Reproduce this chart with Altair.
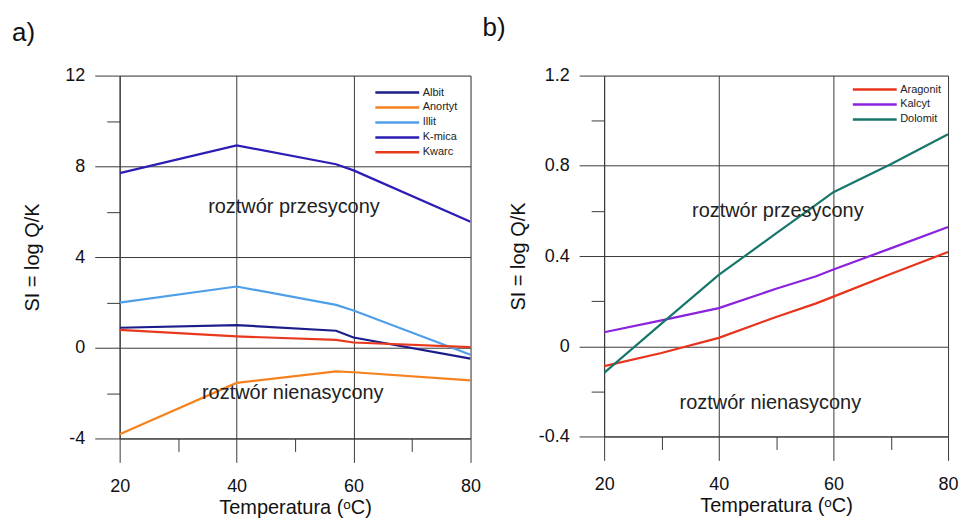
import altair as alt
import pandas as pd

# ---------------- data ----------------
temps_a = [20, 40, 57, 60, 80]
series_a = ["Albit", "Anortyt", "Illit", "K-mica", "Kwarc"]
albit = [0.88, 1.0, 0.75, 0.45, -0.48]
anortyt = [-3.82, -1.55, -1.04, -1.08, -1.44]
illit = [1.99, 2.7, 1.89, 1.64, -0.31]
kmica = [7.7, 8.92, 8.09, 7.82, 5.55]
kwarc = [0.79, 0.5, 0.35, 0.23, 0.03]
colors_a = ["#1c1c8a", "#f5821f", "#4f9fe8", "#2b1db5", "#e8381e"]

temps_b = [20, 30, 40, 50, 57, 60, 70, 80]
series_b = ["Aragonit", "Kalcyt", "Dolomit"]
aragonit = [-0.088, -0.03, 0.037, 0.13, 0.19, 0.22, 0.32, 0.418]
kalcyt = [0.062, 0.115, 0.169, 0.255, 0.31, 0.34, 0.434, 0.529]
dolomit = [-0.118, 0.10, 0.316, 0.50, 0.628, 0.683, 0.807, 0.94]
colors_b = ["#e8341c", "#8b22dd", "#17776b"]

x_ticks = [20, 30, 40, 50, 60, 70, 80]
y_ticks_a = [-4, -2, 0, 2, 4, 6, 8, 10, 12]
y_ticks_b = [-0.4, -0.2, 0, 0.2, 0.4, 0.6, 0.8, 1.0, 1.2]

ann_text = ["roztwór przesycony", "roztwór nienasycony"]
ann_x_a = [49.8, 49.6]
ann_y_a = [6.2, -2.0]
ann_x_b = [50.3, 49.0]
ann_y_b = [0.6, -0.25]

x_title = "Temperatura (ᵒC)"
y_title = "SI = log Q/K"

FONT = "Liberation Sans"
GRID = "#3a3a3a"


def long_df(temps, names, arrays):
    rows = []
    for n, arr in zip(names, arrays):
        for t, v in zip(temps, arr):
            rows.append({"T": t, "SI": v, "series": n})
    return pd.DataFrame(rows)


df_a = long_df(temps_a, series_a, [albit, anortyt, illit, kmica, kwarc])
df_b = long_df(temps_b, series_b, [aragonit, kalcyt, dolomit])
ann_a = pd.DataFrame({"T": ann_x_a, "SI": ann_y_a, "txt": ann_text})
ann_b = pd.DataFrame({"T": ann_x_b, "SI": ann_y_b, "txt": ann_text})


def x_axis():
    major = "datum.value % 20 === 0"
    return alt.Axis(
        values=x_ticks,
        labelExpr=f"{major} ? datum.label : ''",
        labelFlush=False,
        tickSize={"condition": {"test": major, "value": 24}, "value": 13},
        grid=True,
        gridColor=GRID,
        gridOpacity={"condition": {"test": major, "value": 1}, "value": 0},
        tickColor=GRID,
        domainColor=GRID,
        labelFont=FONT,
        labelFontSize=18,
        labelColor="#111",
        labelPadding=15,
        title=x_title,
        titleFont=FONT,
        titleFontSize=20,
        titleFontWeight="normal",
        titleColor="#111",
        titlePadding=2,
    )


def y_axis(yticks, major, label_expr, title_pad):
    return alt.Axis(
        values=yticks,
        labelExpr=f"{major} ? {label_expr} : ''",
        labelFlush=False,
        tickSize={"condition": {"test": major, "value": 25}, "value": 13},
        grid=True,
        gridColor=GRID,
        gridOpacity={"condition": {"test": major, "value": 1}, "value": 0},
        tickColor=GRID,
        domainColor=GRID,
        labelFont=FONT,
        labelFontSize=18,
        labelColor="#111",
        labelPadding=10,
        title=y_title,
        titleFont=FONT,
        titleFontSize=20,
        titleFontWeight="normal",
        titleColor="#111",
        titlePadding=title_pad,
    )


def panel(df, ann, names, colors, ydom, yticks, major, label_expr, title_pad,
          height, legend_y, tag, tag_dx, tag_offset, width):
    yax = y_axis(yticks, major, label_expr, title_pad)
    x = alt.X("T:Q", scale=alt.Scale(domain=[20, 80], nice=False, zero=False), axis=x_axis())
    y = alt.Y("SI:Q", scale=alt.Scale(domain=ydom, nice=False, zero=False), axis=yax)
    lines = alt.Chart(df).mark_line(strokeWidth=2.2, clip=True).encode(
        x=x,
        y=y,
        color=alt.Color(
            "series:N",
            scale=alt.Scale(domain=names, range=colors),
            sort=names,
            legend=alt.Legend(
                title=None,
                orient="none",
                legendX=width - 64,
                legendY=legend_y,
                symbolType="M-7,0H1",
                symbolSize=121,
                symbolStrokeWidth=2.5,
                symbolFillColor="transparent",
                labelFont=FONT,
                labelFontSize=11,
                labelColor="#222",
                labelOffset=2,
                rowPadding=3,
            ),
        ),
        detail="series:N",
    )
    text = alt.Chart(ann).mark_text(font=FONT, fontSize=20, color="#222").encode(
        x="T:Q", y="SI:Q", text="txt:N"
    )
    return alt.layer(lines, text).properties(
        width=width,
        height=height,
        title=alt.TitleParams(
            tag, anchor="start", frame="group", fontSize=26, fontWeight="normal",
            font=FONT, color="#111", dx=tag_dx, offset=tag_offset,
        ),
    )


panel_a = panel(df_a, ann_a, series_a, colors_a, [-4, 12], y_ticks_a,
                "datum.value % 4 === 0", "toString(datum.value)", 22,
                364, 10, "a)", -108, 21, 352)
panel_b = panel(df_b, ann_b, series_b, colors_b, [-0.4, 1.2], y_ticks_b,
                "round(datum.value * 10) % 4 === 0",
                "toString(round(datum.value * 10) / 10)", 10,
                362, 7, "b)", -122, 26, 345)

chart = (
    alt.hconcat(panel_a, panel_b, spacing=0)
    .resolve_scale(color="independent")
    .properties(padding={"left": 3, "top": 5, "right": 0, "bottom": 0})
    .configure_view(stroke=None)
    .configure(background="white")
)

chart.save("out.html", embed_options={"renderer": "svg", "actions": False})
